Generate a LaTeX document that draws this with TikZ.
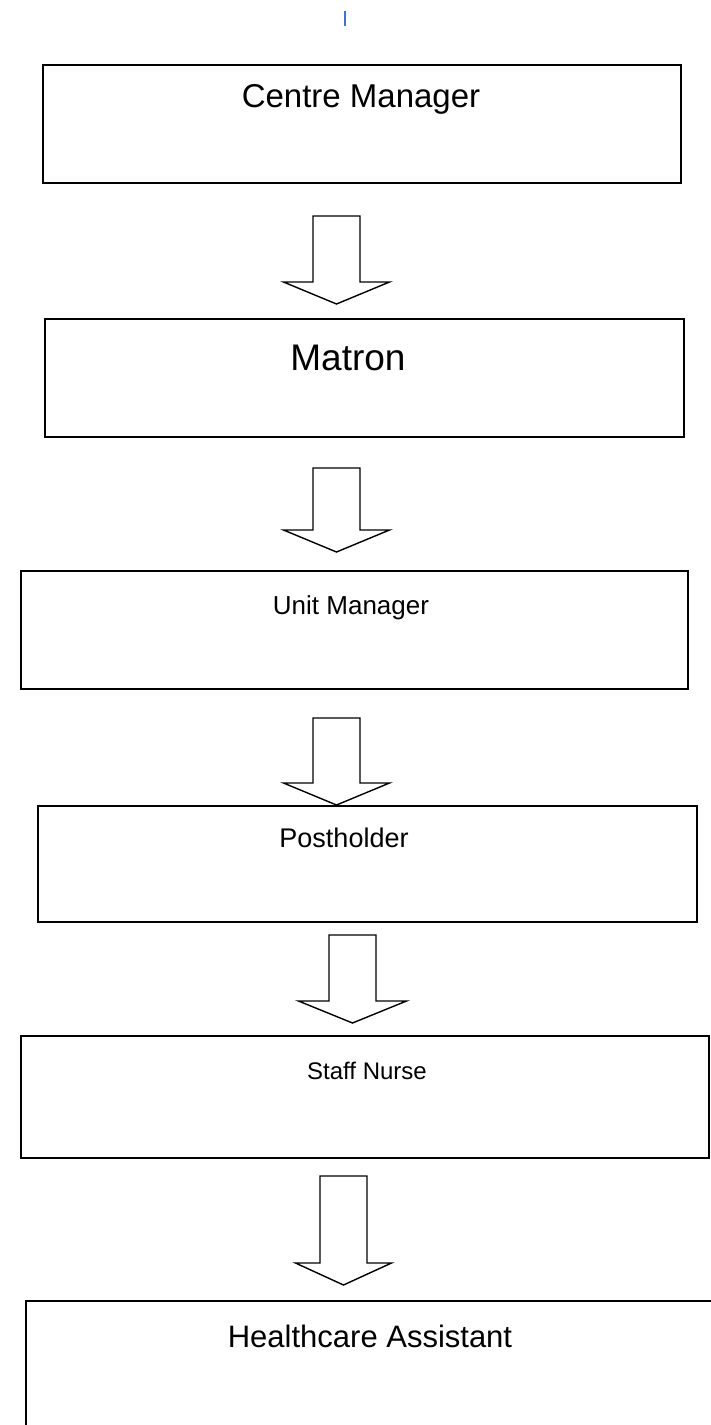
\documentclass[tikz,border=0pt]{standalone}
\usepackage{fontspec}
\setmainfont{Liberation Sans}
\definecolor{markblue}{RGB}{68,114,196}
\tikzset{
  box/.style={draw=black, line width=1.8pt, anchor=north west, inner sep=0pt, fill=none},
  lbl/.style={anchor=base, inner sep=0pt},
  arrowline/.style={draw=black, line width=1.4pt, line join=miter}
}
% #1 centre x, #2 top y, #3 shaft length, #4 head half width, #5 name
\newcommand\blockarr[5]{%
  \coordinate (#5) at (#1,#2);
  \draw[arrowline] ($(#5)+(-23.5,0)$) -- ($(#5)+(23.5,0)$) -- ($(#5)+(23.5,#3)$)
    -- ($(#5)+(#4,#3)$) -- ($(#5)+(0,#3+22)$) -- ($(#5)+(-#4,#3)$)
    -- ($(#5)+(-23.5,#3)$) -- cycle;}
\usetikzlibrary{calc}
\begin{document}
\begin{tikzpicture}[x=1pt,y=-1pt]
\useasboundingbox (0,0) rectangle (711,1425);
\clip (0,0) rectangle (711,1425);
\fill[white] (0,0) rectangle (711,1425);
% cursor mark
\coordinate (m1) at (345,11);
\coordinate (m2) at (345,26);
\draw[markblue, line width=1.6pt] (m1) -- (m2);
% boxes
\node[box, minimum width=638pt, minimum height=118pt] (b1) at (42,64) {};
\node[box, minimum width=639pt, minimum height=118pt] (b2) at (44,318) {};
\node[box, minimum width=667pt, minimum height=118pt] (b3) at (20,570) {};
\node[box, minimum width=659pt, minimum height=116pt] (b4) at (37,805) {};
\node[box, minimum width=688pt, minimum height=122pt] (b5) at (20,1035) {};
\node[box, minimum width=690pt, minimum height=140pt] (b6) at (25,1300) {};
% labels
\node[lbl, font=\fontsize{33}{38}\selectfont] (t1) at (361,107) {Centre Manager};
\node[lbl, font=\fontsize{37}{42}\selectfont] (t2) at (348,370) {Matron};
\node[lbl, font=\fontsize{26}{31}\selectfont] (t3) at (351,614) {Unit Manager};
\node[lbl, font=\fontsize{27}{32}\selectfont] (t4) at (344,847) {Postholder};
\node[lbl, font=\fontsize{24}{29}\selectfont] (t5) at (367,1079) {Staff Nurse};
\node[lbl, font=\fontsize{31}{36}\selectfont] (t6) at (370,1347) {Healthcare Assistant};
% block arrows
\blockarr{336.5}{216}{66}{53}{a1}
\blockarr{336.5}{468}{62}{53}{a2}
\blockarr{336.5}{718}{65}{53}{a3}
\blockarr{352.5}{935}{66}{54}{a4}
\blockarr{343.5}{1176}{87}{48}{a5}
\end{tikzpicture}
\end{document}
